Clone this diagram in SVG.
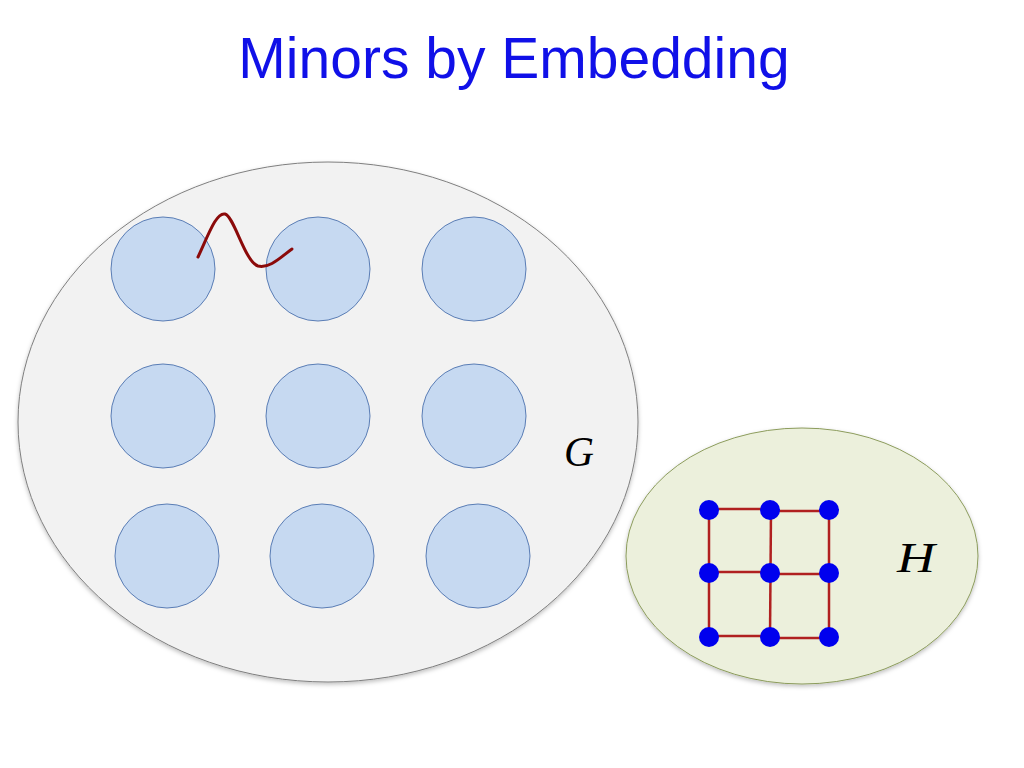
<svg xmlns="http://www.w3.org/2000/svg" width="1024" height="768" viewBox="0 0 1024 768">
  <defs>
    <filter id="sh" x="-10%" y="-10%" width="120%" height="125%">
      <feDropShadow dx="0" dy="2" stdDeviation="2" flood-color="#000" flood-opacity="0.25"/>
    </filter>
  </defs>
  <style>
    .title { font-family: "Liberation Sans", Arial, sans-serif; font-size: 57px; fill: #1010e8; }
    .lbl { font-family: "Liberation Serif", "DejaVu Serif", serif; font-style: italic; font-size: 42px; fill: #000; }
    .blob { fill: #c6d9f1; stroke: #5a7db5; stroke-width: 1; }
    .v { fill: #0000ee; }
    .e { stroke: #b02020; stroke-width: 2.5; fill: none; }
  </style>
  <rect width="1024" height="768" fill="#ffffff"/>
  <text class="title" x="514" y="78" text-anchor="middle">Minors by Embedding</text>

  <g id="G">
    <ellipse cx="328" cy="422" rx="310" ry="260" fill="#f2f2f2" stroke="#7f7f7f" stroke-width="1" filter="url(#sh)"/>
    <text class="lbl" x="564" y="466" textLength="30" lengthAdjust="spacingAndGlyphs">G</text>
  </g>
  <g id="b11"><circle class="blob" cx="163" cy="269" r="52"/></g>
  <g id="b12"><circle class="blob" cx="318" cy="269" r="52"/></g>
  <g id="b13"><circle class="blob" cx="474" cy="269" r="52"/></g>
  <g id="b21"><circle class="blob" cx="163" cy="416" r="52"/></g>
  <g id="b22"><circle class="blob" cx="318" cy="416" r="52"/></g>
  <g id="b23"><circle class="blob" cx="474" cy="416" r="52"/></g>
  <g id="b31"><circle class="blob" cx="167" cy="556" r="52"/></g>
  <g id="b32"><circle class="blob" cx="322" cy="556" r="52"/></g>
  <g id="b33"><circle class="blob" cx="478" cy="556" r="52"/></g>

  <g id="H">
    <ellipse cx="802" cy="556" rx="176" ry="128" fill="#ecf0dc" stroke="#8c9c5c" stroke-width="1" filter="url(#sh)"/>
    <text class="lbl" x="897" y="572" textLength="38" lengthAdjust="spacingAndGlyphs">H</text>
  </g>

  <g id="connectors">
    <path d="M198,257 C208,236 216,212 225,214 C234,216 245,262 258,266 C270,269 282,256 292,249" stroke="#8b0a0a" stroke-width="3" fill="none" stroke-linecap="round"/>
    <line class="e" x1="709" y1="509" x2="770" y2="509"/>
    <line class="e" x1="770" y1="511" x2="829" y2="511"/>
    <line class="e" x1="709" y1="572" x2="770" y2="572"/>
    <line class="e" x1="770" y1="574" x2="829" y2="574"/>
    <line class="e" x1="709" y1="636" x2="770" y2="636"/>
    <line class="e" x1="770" y1="638" x2="829" y2="638"/>
    <line class="e" x1="709" y1="510" x2="709" y2="637"/>
    <line class="e" x1="771" y1="510" x2="770" y2="637"/>
    <line class="e" x1="829" y1="510" x2="829" y2="637"/>
  </g>

  <g id="n11"><circle class="v" cx="709" cy="510" r="10"/></g>
  <g id="n12"><circle class="v" cx="770" cy="510" r="10"/></g>
  <g id="n13"><circle class="v" cx="829" cy="510" r="10"/></g>
  <g id="n21"><circle class="v" cx="709" cy="573" r="10"/></g>
  <g id="n22"><circle class="v" cx="770" cy="573" r="10"/></g>
  <g id="n23"><circle class="v" cx="829" cy="573" r="10"/></g>
  <g id="n31"><circle class="v" cx="709" cy="637" r="10"/></g>
  <g id="n32"><circle class="v" cx="770" cy="637" r="10"/></g>
  <g id="n33"><circle class="v" cx="829" cy="637" r="10"/></g>
</svg>
